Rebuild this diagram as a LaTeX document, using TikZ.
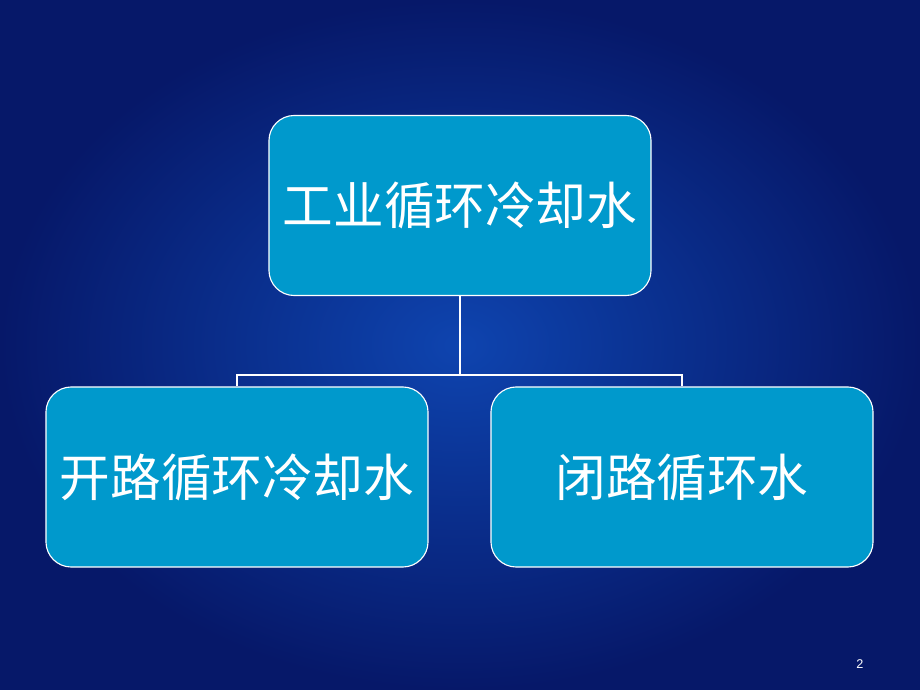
\documentclass[tikz,border=0pt]{standalone}
\usepackage{fontspec}
\setmainfont{Liberation Sans}
\newfontfamily\cjk{Noto Sans CJK SC}
\usetikzlibrary{positioning}
\definecolor{boxblue}{RGB}{0,153,204}
\definecolor{bgdark}{RGB}{6,24,105}
\definecolor{bglight}{RGB}{14,68,175}
\tikzset{
  box/.style={draw=white, line width=0.8pt, fill=boxblue, rounded corners=18pt,
    minimum width=9.55cm, minimum height=4.5cm, text=white, font=\cjk\fontsize{36}{40}\selectfont},
  link/.style={draw=white, line width=2pt}
}
\begin{document}
\begin{tikzpicture}[x=0.025cm, y=-0.025cm]
% Background
\shade[inner color=bglight, outer color=bgdark] (0,0) rectangle (920,690);
\useasboundingbox (0,0) rectangle (920,690);

% Boxes
\node[box] (top) at (460,205.5) {工业循环冷却水};
\node[box] (open) at (237,477) {开路循环冷却水};
\node[box] (closed) at (682,477) {闭路循环水};
\coordinate (junction) at (460,375);

% Connectors
\draw[link] (top.south) -- (junction);
\draw[link] (open.north) |- (junction) -| (closed.north);

% Page number
\node[text=white, font=\small] (page) at (860,664) {2};
\end{tikzpicture}
\end{document}
